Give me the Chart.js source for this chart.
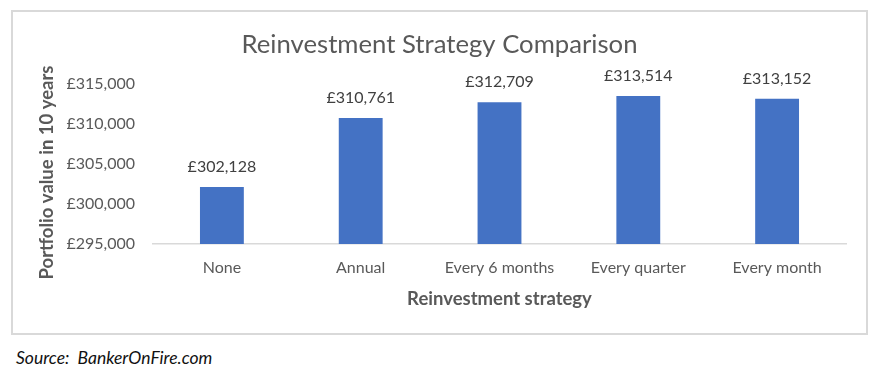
<!DOCTYPE html>
<html>
<head>
<meta charset="utf-8">
<script src="https://cdn.jsdelivr.net/npm/chart.js@4/dist/chart.umd.min.js"></script>
<style>
  html, body { margin: 0; padding: 0; background: #ffffff; }
  body { width: 885px; height: 374px; position: relative; overflow: hidden; }
  #box { position: absolute; left: 11px; top: 10px; width: 853px; height: 321px; border: 2px solid #d9d9d9; }
  #box canvas { display: block; }
  #source { position: absolute; left: 16px; top: 348px; font-family: Lato, sans-serif; font-style: italic; font-size: 17.5px; color: #111111; white-space: pre; line-height: 20px; }
</style>
</head>
<body>
<div id="box"><canvas id="c" width="853" height="321"></canvas></div>
<div id="source">Source:  BankerOnFire.com</div>
<script>
const categories = ["None", "Annual", "Every 6 months", "Every quarter", "Every month"];
const portfolioValues = [302128, 310761, 312709, 313514, 313152];
const yTickValues = [295000, 300000, 305000, 310000, 315000];
const chartTitle = "Reinvestment Strategy Comparison";
const xAxisTitle = "Reinvestment strategy";
const yAxisTitle = "Portfolio value in 10 years";

const FONT = "Lato, 'Open Sans', sans-serif";
function gbp(v) {
  return "£" + String(Math.round(v)).replace(/\B(?=(\d{3})+(?!\d))/g, ",");
}

const valueLabels = {
  id: "valueLabels",
  afterLayout(chart) {
    // centre the chart title over the whole chart box
    if (chart.titleBlock) { chart.titleBlock.left = 0; chart.titleBlock.right = chart.width; }
  },
  afterDatasetsDraw(chart) {
    const ctx = chart.ctx;
    const meta = chart.getDatasetMeta(0);
    ctx.save();
    ctx.font = "16px " + FONT;
    ctx.fillStyle = "#404040";
    ctx.textAlign = "center";
    ctx.textBaseline = "middle";
    meta.data.forEach((bar, i) => {
      ctx.fillText(gbp(chart.data.datasets[0].data[i]), bar.x, bar.y - 20);
    });
    ctx.restore();
  },
  afterDraw(chart) {
    const ctx = chart.ctx;
    ctx.save();
    ctx.translate(34, 160.5);
    ctx.rotate(-Math.PI / 2);
    ctx.font = "bold 18.5px " + FONT;
    ctx.fillStyle = "#595959";
    ctx.textAlign = "center";
    ctx.textBaseline = "middle";
    ctx.fillText(yAxisTitle, 0, 0);
    ctx.restore();
  }
};

new Chart(document.getElementById("c"), {
  type: "bar",
  data: {
    labels: categories,
    datasets: [{
      data: portfolioValues,
      backgroundColor: "#4472C4",
      borderWidth: 0,
      categoryPercentage: 1,
      barPercentage: 0.316
    }]
  },
  options: {
    responsive: false,
    animation: false,
    devicePixelRatio: 1,
    layout: { padding: { left: 0, right: 19.5, top: 0, bottom: 0 } },
    plugins: {
      legend: { display: false },
      tooltip: { enabled: false },
      title: {
        display: true,
        text: chartTitle,
        color: "#595959",
        font: { family: FONT, size: 25.7, weight: "normal" },
        padding: { top: 17.6, bottom: 23.56 }
      }
    },
    scales: {
      x: {
        grid: { display: false, drawTicks: false },
        border: { display: true, color: "#d9d9d9", width: 1.5 },
        ticks: { color: "#595959", font: { family: FONT, size: 16 }, padding: 14.2, maxRotation: 0 },
        title: { display: true, text: xAxisTitle, color: "#595959", font: { family: FONT, size: 18.5, weight: "bold" }, padding: { top: 2, bottom: 22.9 } },
        afterFit(scale) { scale.height = 89; }
      },
      y: {
        min: 295000,
        max: 315000,
        afterBuildTicks(scale) { scale.ticks = yTickValues.map(v => ({ value: v })); },
        grid: { display: false, drawTicks: false },
        border: { display: false },
        ticks: { color: "#595959", font: { family: FONT, size: 16 }, padding: 17.5, callback: (v) => gbp(v) },
        title: { display: false },
        afterFit(scale) { scale.width = 139.5; }
      }
    }
  },
  plugins: [valueLabels]
});
</script>
</body>
</html>
